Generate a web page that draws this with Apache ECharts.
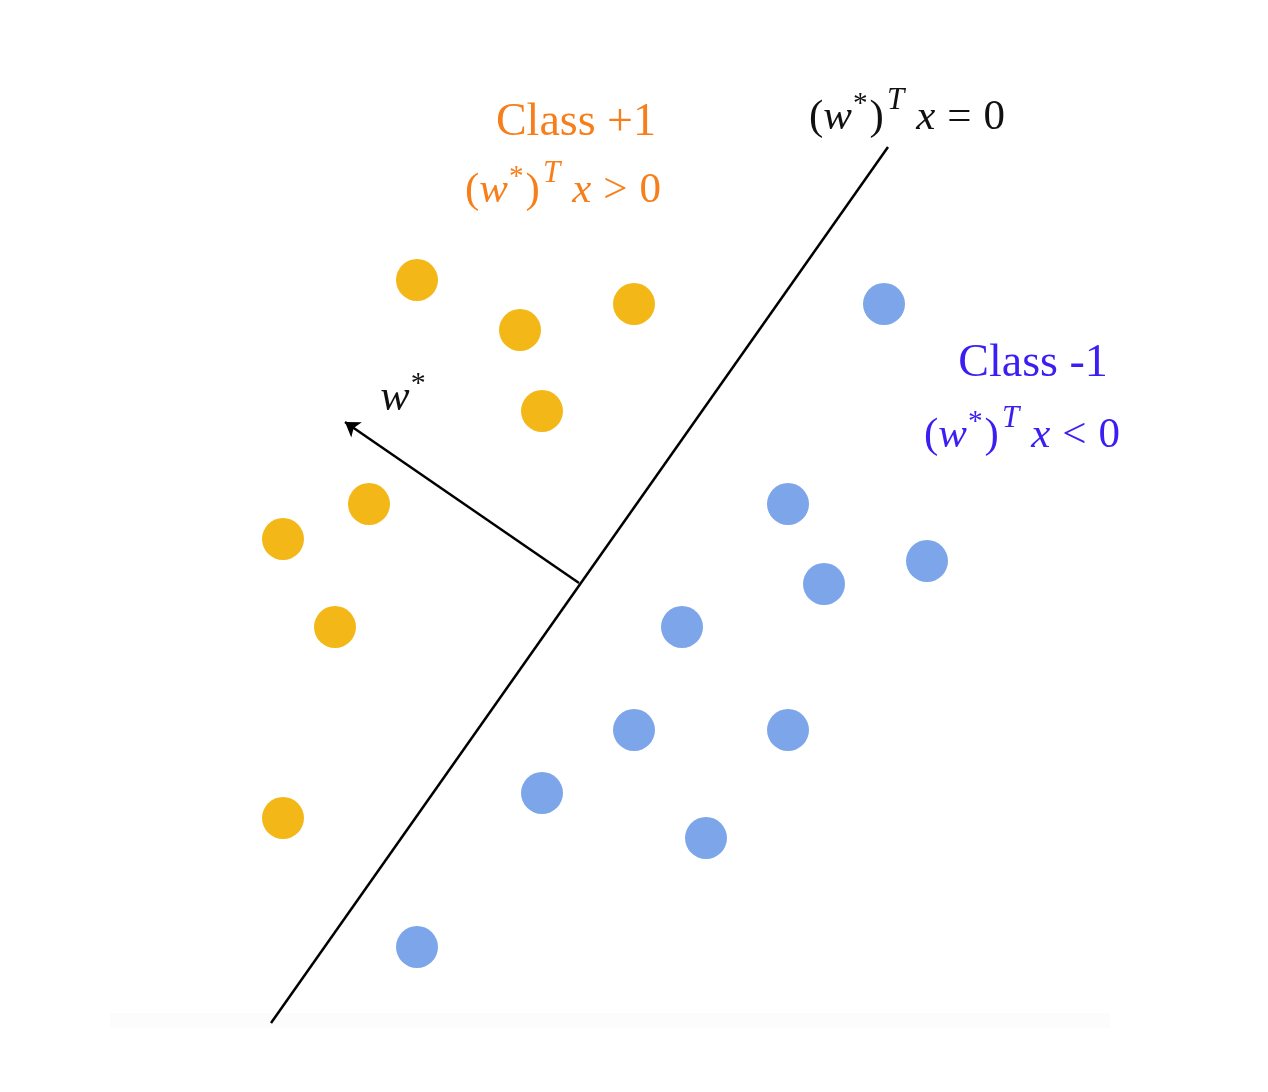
<!DOCTYPE html>
<html lang="en">
<head>
    <meta charset="UTF-8">
    <title>Perceptron separating line</title>
    <script src="https://cdn.jsdelivr.net/npm/echarts@6/dist/echarts.min.js"></script>
</head>
<body style="margin:0;background:#fff">
    <div id="main" style="width: 1268px;height: 1092px"></div>
    <script>
        // points of class +1 (yellow) and class -1 (blue), in plot units
        var classPos = [[4.17, 8.12], [5.20, 7.62], [6.34, 7.88], [5.42, 6.81],
                        [3.69, 5.88], [2.83, 5.53], [3.35, 4.65], [2.83, 2.74]];
        var classNeg = [[8.84, 7.88], [7.88, 5.88], [9.27, 5.31], [8.24, 5.08],
                        [6.82, 4.65], [6.34, 3.62], [7.88, 3.62], [5.42, 2.99],
                        [7.06, 2.54], [4.17, 1.45]];
        // separating line (w*)^T x = 0 and the normal vector w*
        var boundary = [[8.88, 9.45], [2.71, 0.69]];
        var normalVec = [[5.79, 5.09], [3.45, 6.70]];

        var mCharts = echarts.init(document.getElementById('main'));

        var serif = 'Liberation Serif';
        function mathStyles(color, size) {
            return {
                n: {fontFamily: serif, fontSize: size, fill: color},
                i: {fontFamily: serif, fontStyle: 'italic', fontSize: size, fill: color},
                x: {fontFamily: serif, fontStyle: 'italic', fontSize: size, fill: color, padding: [0, 0, 0, 12]},
                r: {fontFamily: serif, fontSize: size, fill: color, padding: [0, 12, 0, 12]},
                s: {fontFamily: serif, fontSize: size * 0.68, fill: color, verticalAlign: 'top', padding: [4, 2, 0, 1]},
                t: {fontFamily: serif, fontStyle: 'italic', fontSize: size * 0.72, fill: color, verticalAlign: 'top', padding: [0, 0, 0, 3]}
            };
        }
        function mathText(x, y, str, color, size) {
            return {
                type: 'text', x: x, y: y,
                style: {
                    text: str, align: 'center', verticalAlign: 'middle',
                    lineHeight: size * 1.5,
                    rich: mathStyles(color, size)
                }
            };
        }
        var orange = '#f77f1b', blue = '#3a1ef2';

        var option = {
            animation: false,
            backgroundColor: '#fff',
            grid: {left: 0, right: 0, top: 0, bottom: 0},
            xAxis: {type: 'value', min: 0, max: 12.68, show: false},
            yAxis: {type: 'value', min: 0, max: 10.92, show: false},
            graphic: [
                {type: 'rect', shape: {x: 110, y: 1013, width: 1000, height: 15},
                 style: {fill: '#fcfcfc'}, z: -1},
                {type: 'text', x: 576, y: 123,
                 style: {text: 'Class +1', align: 'center', verticalAlign: 'middle',
                         font: '46px "Liberation Serif"', fill: orange}},
                mathText(563, 191, '{n|(}{i|w}{s|*}{n|)}{t|T}{x|x}{r|>}{n|0}', orange, 43),
                mathText(907, 118, '{n|(}{i|w}{s|*}{n|)}{t|T}{x|x}{r|=}{n|0}', '#111', 43),
                {type: 'text', x: 1033, y: 364,
                 style: {text: 'Class -1', align: 'center', verticalAlign: 'middle',
                         font: '46px "Liberation Serif"', fill: blue}},
                mathText(1022, 436, '{n|(}{i|w}{s|*}{n|)}{t|T}{x|x}{r|<}{n|0}', blue, 43),
                mathText(404, 398, '{i|w}{s|*}', '#111', 44)
            ],
            series: [
                {
                    type: 'line',
                    data: boundary,
                    showSymbol: false,
                    lineStyle: {color: '#000', width: 2.5},
                    markLine: {
                        silent: true,
                        symbol: ['none', 'arrow'],
                        symbolSize: 14,
                        label: {show: false},
                        lineStyle: {color: '#000', width: 2.5, type: 'solid'},
                        data: [[{coord: normalVec[0]}, {coord: normalVec[1]}]]
                    }
                },
                {
                    type: 'scatter',
                    data: classPos,
                    symbolSize: 42,
                    itemStyle: {color: '#f3b717', opacity: 1}
                },
                {
                    type: 'scatter',
                    data: classNeg,
                    symbolSize: 42,
                    itemStyle: {color: '#7ca5ea', opacity: 1}
                }
            ]
        };
        mCharts.setOption(option);
    </script>
</body>
</html>
